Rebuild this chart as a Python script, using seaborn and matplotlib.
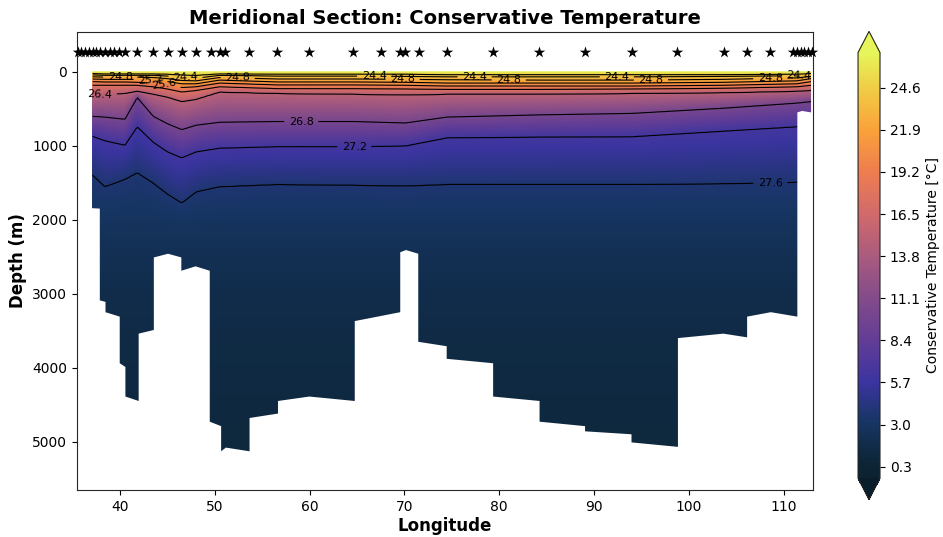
import numpy as np
import seaborn as sns
import matplotlib.pyplot as plt
from matplotlib.colors import LinearSegmentedColormap, Normalize

# ==========================================
# data read from the reference section
# ==========================================
# station positions (stars along the top)
station_lon = [35.5, 35.9, 36.3, 36.7, 37.1, 37.5, 37.9, 38.4, 38.9, 39.4, 39.9, 40.5,
               41.8, 43.45, 45.0, 46.5, 48.0, 49.6, 50.5, 51.1, 53.6, 56.6, 59.9, 64.6,
               67.5, 69.5, 70.1, 71.5, 74.5, 79.3, 84.2, 89.05, 94.0, 98.8, 103.7, 106.1,
               108.6, 111.0, 111.4, 111.8, 112.2, 112.6, 113.0]
star_depth = -270

# isopycnal depths (m) at key longitudes
key_lon = [37.1, 38.4, 40.5, 41.8, 43.5, 45.0, 46.5, 48.0, 50.5, 56.6, 64.6, 70.1,
           74.5, 84.2, 94.0, 103.6, 111.4, 112.9]
z_240 = [20, 25, 25, 25, 25, 30, 40, 45, 25, 30, 30, 30, 35, 35, 35, 35, 30, 20]
z_244 = [40, 45, 45, 45, 45, 55, 75, 85, 45, 55, 55, 60, 65, 65, 65, 60, 50, 35]
z_248 = [65, 70, 70, 70, 75, 90, 115, 120, 75, 95, 95, 100, 105, 110, 110, 100, 80, 60]
z_252 = [95, 100, 100, 100, 110, 130, 160, 160, 110, 135, 135, 140, 150, 150, 150, 140, 120, 90]
z_256 = [130, 135, 135, 140, 150, 170, 210, 200, 150, 175, 175, 180, 190, 190, 190, 180, 160, 130]
z_260 = [180, 180, 180, 180, 200, 230, 270, 250, 200, 225, 225, 230, 235, 235, 230, 220, 200, 180]
z_264 = [310, 300, 290, 260, 300, 340, 400, 370, 270, 290, 300, 310, 300, 300, 290, 280, 260, 250]
z_268 = [600, 610, 640, 340, 600, 700, 780, 720, 680, 670, 670, 690, 610, 580, 560, 490, 420, 400]
z_272 = [870, 930, 990, 740, 950, 1080, 1160, 1080, 1030, 1010, 1010, 1000, 890, 880, 875, 800, 740, 720]
z_276 = [1390, 1550, 1450, 1360, 1500, 1650, 1770, 1620, 1550, 1520, 1530, 1540, 1520, 1520, 1520, 1510, 1490, 1480]
# deep isopycnals are flat along the section
deep_sigma = [27.72, 27.78, 27.82, 27.85]
deep_depth = [2150, 2900, 3800, 5700]

sigma_levels = [23.0, 24.0, 24.4, 24.8, 25.2, 25.6, 26.0, 26.4, 26.8, 27.2, 27.6] + deep_sigma
temp_on_sigma = [26.8, 25.2, 24.2, 23.0, 21.6, 20.0, 18.0, 15.0, 10.3, 6.3, 3.8, 2.6, 1.8, 1.3, 0.8]

# bottom (bathymetry) outline, white below it
bathy_lon = [35.0, 37.8, 37.8, 38.4, 38.4, 39.9, 39.9, 40.5, 40.5, 41.9, 41.9, 43.5, 43.5,
             45.0, 46.4, 46.4, 47.9, 49.4, 49.4, 50.6, 50.6, 51.1, 53.6, 53.6, 56.6, 56.6,
             59.9, 64.7, 64.7, 69.5, 69.5, 70.1, 71.4, 71.4, 74.4, 74.4, 79.3, 79.3, 84.2,
             84.2, 89.0, 89.0, 93.9, 93.9, 98.8, 98.8, 103.6, 106.1, 106.1, 108.6, 111.4,
             111.4, 111.9, 112.85, 112.85, 114.0]
bathy_depth = [1820, 1840, 3080, 3100, 3240, 3300, 3930, 3980, 4380, 4440, 3530, 3480, 2500,
               2450, 2500, 2680, 2620, 2680, 4720, 4780, 5120, 5070, 5120, 4670, 4610, 4440,
               4380, 4440, 3360, 3240, 2430, 2400, 2450, 3640, 3700, 3870, 3930, 4380, 4440,
               4720, 4780, 4850, 4890, 5000, 5060, 3590, 3530, 3580, 3300, 3240, 3300,
               540, 520, 540, -1, -1]

cbar_ticks = [0.3, 3.0, 5.7, 8.4, 11.1, 13.8, 16.5, 19.2, 21.9, 24.6]
contour_levels = [24.0, 24.4, 24.8, 25.2, 25.6, 26.0, 26.4, 26.8, 27.2, 27.6]
label_pos = [(37.9, 365), (59.1, 620), (64.7, 1030), (108.6, 1510),
             (40.0, 75), (43.2, 120), (44.6, 190), (46.9, 80), (52.4, 70),
             (66.8, 55), (69.8, 95), (77.4, 55), (81.0, 95), (92.4, 55), (96.0, 95),
             (108.6, 95), (111.6, 60)]

# ==========================================
# gridded section
# ==========================================
iso_table = np.vstack([np.zeros(len(key_lon)), z_240, z_244, z_248, z_252, z_256, z_260,
                       z_264, z_268, z_272, z_276,
                       np.repeat(np.array(deep_depth)[:, None], len(key_lon), axis=1)])
grid_lon = np.linspace(key_lon[0], key_lon[-1], 400)
grid_z = np.arange(0, 5610, 10)
sigma = np.zeros((len(grid_z), len(grid_lon)))
for j, lo in enumerate(grid_lon):
    iso_z = [np.interp(lo, key_lon, row) for row in iso_table]
    sigma[:, j] = np.interp(grid_z, iso_z, sigma_levels)
temp = np.interp(sigma, sigma_levels, temp_on_sigma)

# cmocean "thermal"-like colormap
thermal = LinearSegmentedColormap.from_list('thermal_like', [
    (0.00, '#0b2231'), (0.03, '#0c2434'), (0.13, '#163563'), (0.225, '#3b34a0'),
    (0.325, '#633d96'), (0.424, '#834b8a'), (0.523, '#aa5b7e'), (0.62, '#d06a6c'),
    (0.72, '#ee7d50'), (0.82, '#f9a23a'), (0.917, '#f1cc45'), (1.00, '#e6f55a')])
thermal.set_under('#0a1d2a')
thermal.set_over('#e6f55a')
norm = Normalize(vmin=-0.45, vmax=26.85)

# ==========================================
# plot
# ==========================================
sns.set_style('ticks', {'axes.edgecolor': '0.15', 'xtick.color': 'black', 'ytick.color': 'black',
                        'text.color': 'black', 'axes.labelcolor': 'black'})
plt.rcParams['xtick.major.size'] = 3.5
plt.rcParams['ytick.major.size'] = 3.5

fig = plt.figure(figsize=(9.43, 5.37), dpi=100)
ax = fig.add_axes([0.0817, 0.0875, 0.7804, 0.8529])

mesh = ax.pcolormesh(grid_lon, grid_z, temp, cmap=thermal, norm=norm, shading='gouraud', zorder=1)
cs = ax.contour(grid_lon, grid_z, sigma, levels=contour_levels, colors='black', linewidths=0.8, zorder=2)
ax.clabel(cs, fmt='%.1f', fontsize=8, inline=True, manual=label_pos)

# keep the white seafloor below the axes frame (spines sit at zorder 2.5)
ax.fill_between(bathy_lon, bathy_depth, 6000, color='white', linewidth=0, zorder=2.3)

sns.scatterplot(x=station_lon, y=[star_depth] * len(station_lon), marker='*', color='black',
                s=75, linewidth=0, ax=ax, legend=False, zorder=5, clip_on=False)

ax.set_xlim(35.45, 113.1)
ax.set_ylim(5650, -540)
ax.set_xticks([40, 50, 60, 70, 80, 90, 100, 110])
ax.set_yticks([0, 1000, 2000, 3000, 4000, 5000])
ax.tick_params(labelsize=10)
ax.set_xlabel('Longitude', fontsize=12, fontweight='bold', labelpad=2)
ax.set_ylabel('Depth (m)', fontsize=12, fontweight='bold')
ax.set_title('Meridional Section: Conservative Temperature', fontsize=14, fontweight='bold', pad=6)

cax = fig.add_axes([0.9099, 0.0696, 0.0233, 0.872])
cb = fig.colorbar(mesh, cax=cax, extend='both', ticks=cbar_ticks)
cb.ax.set_yticklabels([f'{t:.1f}' for t in cbar_ticks])
cb.ax.tick_params(labelsize=10)
cb.set_label('Conservative Temperature [°C]', fontsize=10)

fig.savefig('out.png', dpi=100)
